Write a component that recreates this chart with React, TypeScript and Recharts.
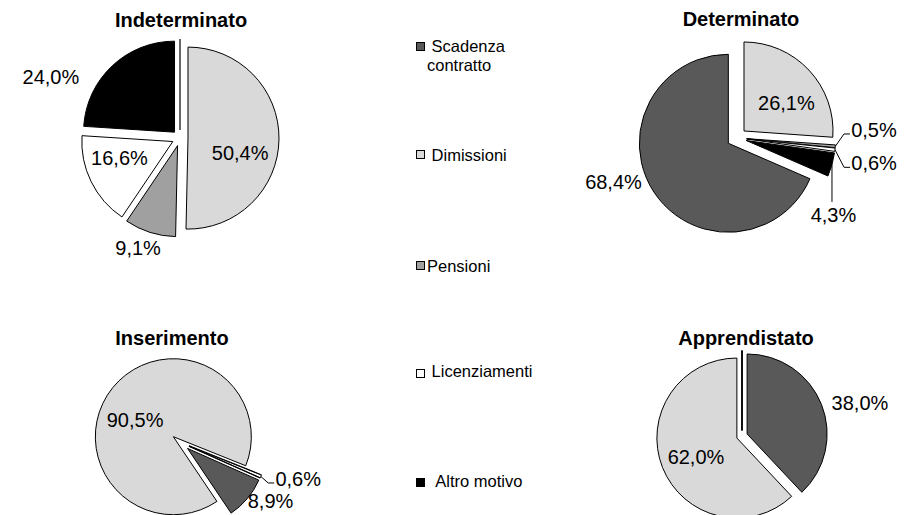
import { PieChart, Pie, Cell, Sector } from "recharts";

// Motivi di cessazione per tipologia contrattuale (valori %)
const CATEGORIES = ["Scadenza contratto", "Dimissioni", "Pensioni", "Licenziamenti", "Altro motivo"];
const LEGEND_TEXT = [" Scadenza\ncontratto", " Dimissioni", "Pensioni", " Licenziamenti", "  Altro motivo"];

const INDETERMINATO = [0, 50.4, 9.1, 16.6, 24.0];
const DETERMINATO = [68.4, 26.1, 0.5, 0.6, 4.3];
const INSERIMENTO = [8.9, 90.5, 0, 0.6, 0];
const APPRENDISTATO = [38.0, 62.0, 0, 0, 0];

const FILLS = ["#595959", "#d9d9d9", "#a0a0a0", "#ffffff", "#000000"];
const FONT = '"Liberation Sans", Arial, Helvetica, sans-serif';
const RAD = Math.PI / 180;

type LabelSpec = { dist: number; shift: number; leader?: "h" | "v" } | null;

interface PieSpec {
  title: string;
  values: number[];
  cx: number;
  cy: number;
  r: number;
  explode: number;
  first: number; // angle of first slice, clockwise from 12 o'clock
  titleX: number;
  titleBase: number;
  labels: LabelSpec[];
}

const PIES: PieSpec[] = [
  {
    title: "Indeterminato", values: INDETERMINATO, cx: 180, cy: 138, r: 91, explode: 8, first: 0,
    titleX: 181, titleBase: 27,
    labels: [null, { dist: 0.68, shift: 13 }, { dist: 1.29, shift: 3.3 }, { dist: 0.7, shift: 8 }, { dist: 1.57, shift: -21.5 }],
  },
  {
    title: "Determinato", values: DETERMINATO, cx: 736.7, cy: 137.8, r: 89, explode: 10, first: 113.5,
    titleX: 741, titleBase: 26,
    labels: [
      { dist: 1.47, shift: 13.6 },
      { dist: 0.68, shift: 8.2 },
      { dist: 1.545, shift: -8.2, leader: "h" },
      { dist: 1.57, shift: 3.6, leader: "h" },
      { dist: 1.39, shift: 22.8, leader: "v" },
    ],
  },
  {
    title: "Inserimento", values: INSERIMENTO, cx: 180.5, cy: 442.5, r: 78, explode: 9.2, first: 114,
    titleX: 172, titleBase: 345,
    labels: [{ dist: 1.38, shift: -6.8 }, { dist: 0.65, shift: -12.6 }, null, { dist: 1.58, shift: -5.7, leader: "h" }, null],
  },
  {
    title: "Apprendistato", values: APPRENDISTATO, cx: 742, cy: 436, r: 80, explode: 5.5, first: 0,
    titleX: 746, titleBase: 345,
    labels: [{ dist: 1.53, shift: 6.1 }, { dist: 0.63, shift: -2.5 }, null, null, null],
  },
];

const LEGEND_POS = [
  { top: 37, box: 42 },
  { top: 145.5, box: 150 },
  { top: 256.5, box: 261 },
  { top: 362, box: 369 },
  { top: 472, box: 478 },
];

const fmt = (v: number) => `${v.toFixed(1).replace(".", ",")}%`;

// point at distance r along a recharts angle (ccw from 3 o'clock)
const polar = (cx: number, cy: number, r: number, angle: number) => ({
  x: cx + r * Math.cos(-angle * RAD),
  y: cy + r * Math.sin(-angle * RAD),
});

const explodedShape = (explode: number) => (props: any) => {
  const { cx, cy, outerRadius, startAngle, endAngle, midAngle, fill } = props;
  const apex = polar(cx, cy, explode, midAngle);
  if (Math.abs(startAngle - endAngle) < 1e-6) {
    // zero-value slice: only its edge remains
    const tip = polar(apex.x, apex.y, outerRadius, midAngle);
    return <line x1={apex.x} y1={apex.y} x2={tip.x} y2={tip.y} stroke="#000" strokeWidth={1.2} />;
  }
  return (
    <Sector
      cx={apex.x}
      cy={apex.y}
      innerRadius={0}
      outerRadius={outerRadius}
      startAngle={startAngle}
      endAngle={endAngle}
      fill={fill}
      stroke="#000"
      strokeWidth={1}
    />
  );
};

const labelRenderer = (spec: PieSpec) => (props: any) => {
  const { cx, cy, midAngle, outerRadius, index } = props;
  const s = spec.labels[index];
  if (!s) return null;
  const phi = (90 - midAngle + s.shift) * RAD; // clockwise from top
  const R = outerRadius * s.dist;
  const x = cx + R * Math.sin(phi);
  const y = cy - R * Math.cos(phi);
  let leader = null;
  if (s.leader) {
    const edge = polar(cx, cy, outerRadius + spec.explode, midAngle);
    const pts =
      s.leader === "h"
        ? `${edge.x},${edge.y} ${x - 30},${y + 4} ${x - 24},${y + 4}`
        : `${edge.x},${edge.y} ${edge.x},${y - 13}`;
    leader = <polyline points={pts} fill="none" stroke="#000" strokeWidth={1} />;
  }
  return (
    <g key={`lbl-${spec.title}-${index}`}>
      {leader}
      <text x={x} y={y} textAnchor="middle" dominantBaseline="central" fontFamily={FONT} fontSize={20} fill="#000">
        {fmt(spec.values[index])}
      </text>
    </g>
  );
};

export default function App() {
  return (
    <div style={{ position: "absolute", left: 0, top: 0, width: 917, height: 515, background: "#fff", fontFamily: FONT }}>
      <PieChart width={917} height={515} margin={{ top: 0, right: 0, bottom: 0, left: 0 }}>
        {PIES.map((p) => {
          const data = CATEGORIES.map((name, i) => ({ name, value: p.values[i] }));
          const start = 90 - p.first;
          return (
            <Pie
              key={p.title}
              data={data}
              dataKey="value"
              nameKey="name"
              cx={p.cx}
              cy={p.cy}
              outerRadius={p.r}
              startAngle={start}
              endAngle={start - 360}
              stroke="#000"
              isAnimationActive={false}
              shape={explodedShape(p.explode)}
              label={labelRenderer(p)}
              labelLine={false}
            >
              {data.map((d, i) => (
                <Cell key={d.name} fill={FILLS[i]} />
              ))}
            </Pie>
          );
        })}
      </PieChart>

      {PIES.map((p) => (
        <div
          key={`t-${p.title}`}
          style={{
            position: "absolute",
            left: p.titleX - 150,
            width: 300,
            top: p.titleBase - 17,
            textAlign: "center",
            fontSize: 20,
            lineHeight: "20px",
            fontWeight: "bold",
            color: "#000",
          }}
        >
          {p.title}
        </div>
      ))}

      {CATEGORIES.map((name, i) => (
        <div key={`lg-${name}`}>
          <div
            style={{
              position: "absolute",
              left: 416,
              top: LEGEND_POS[i].box,
              width: 7,
              height: 7,
              background: FILLS[i],
              border: "1px solid #000",
            }}
          />
          <div
            style={{
              position: "absolute",
              left: 427,
              top: LEGEND_POS[i].top,
              fontSize: 16.5,
              lineHeight: "19px",
              whiteSpace: "pre",
              color: "#000",
            }}
          >
            {LEGEND_TEXT[i]}
          </div>
        </div>
      ))}
    </div>
  );
}
